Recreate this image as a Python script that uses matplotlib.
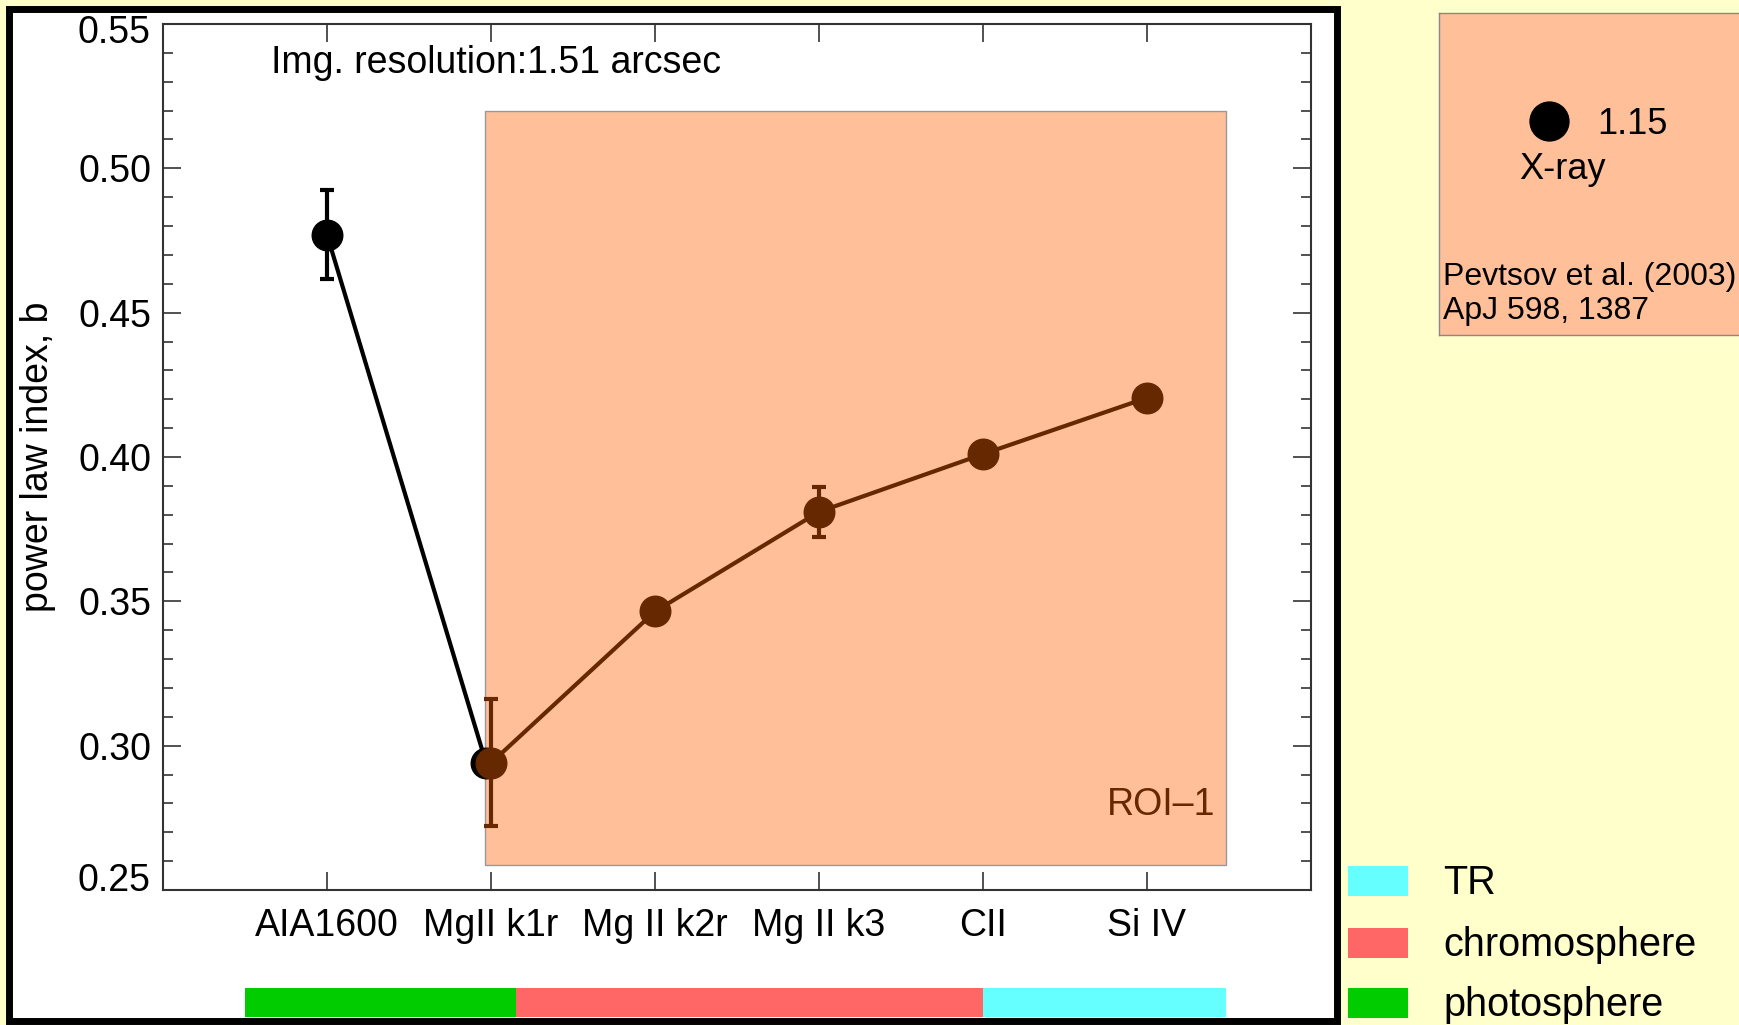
import matplotlib
matplotlib.use("Agg")
import matplotlib.pyplot as plt
import matplotlib.transforms as mtransforms
from matplotlib.patches import Rectangle
from matplotlib.ticker import MultipleLocator, FuncFormatter

plt.rcParams['font.family'] = ['Liberation Sans', 'DejaVu Sans']

# power law index per channel
channels = ['AIA1600', 'MgII k1r', 'Mg II k2r', 'Mg II k3', 'CII', 'Si IV']
aia_x = [1, 1.97]
aia_b = [0.477, 0.294]
aia_err = [0.0155, 0.0]
roi_x = [2, 3, 4, 5, 6]
roi_b = [0.294, 0.3465, 0.381, 0.401, 0.4205]
roi_err = [0.022, 0.003, 0.0087, 0.0, 0.0]

# atmospheric layer bands under the x axis
layer_names = ['photosphere', 'chromosphere', 'TR']
layer_start = [0.5, 2.15, 5.0]
layer_end = [2.15, 5.0, 6.48]
layer_colors = ['#00CC00', '#FF6666', '#66FFFF']

xray_b = 1.15

BROWN = '#662800'
ROI_FILL = '#FFBF99'
BG = '#FFFFCC'
FS = 27
YMIN, YMAX = 0.25, 0.55

fig = plt.figure(figsize=(17.4, 10.25), dpi=100, facecolor=BG)

# white panel with heavy black frame (kept behind the axes)
fig.patches.append(Rectangle((9 / 1740, 4 / 1025), 1328 / 1740, 1012.5 / 1025,
                             transform=fig.transFigure, facecolor='white',
                             edgecolor='black', linewidth=5, zorder=-5))

ax = fig.add_axes([163 / 1740, 135 / 1025, 1148 / 1740, 866 / 1025])
ax.set_facecolor('none')

# ROI shading
ax.add_patch(Rectangle((1.963, 0.2585), 6.48 - 1.963, 0.52 - 0.2585,
                       facecolor=ROI_FILL, edgecolor='#999999', linewidth=1, zorder=1))

ax.errorbar(aia_x, aia_b, yerr=aia_err, color='black', marker='o', markersize=22,
            linewidth=3, elinewidth=3, capsize=5, capthick=3, zorder=3)
ax.errorbar(roi_x, roi_b, yerr=roi_err, color=BROWN, marker='o', markersize=22,
            linewidth=3, elinewidth=3, capsize=5, capthick=3, zorder=4)

ax.text(6.415, 0.2794, 'ROI\u20131', color=BROWN, fontsize=FS, ha='right', va='center')
ax.text(0.094, 0.955, 'Img. resolution:1.51 arcsec', transform=ax.transAxes,
        fontsize=FS, ha='left', va='center')

ax.set_xlim(0, 7)
ax.set_ylim(YMIN, YMAX)
ax.set_xticks(range(1, 7))
ax.set_xticklabels(channels)
ax.yaxis.set_major_locator(MultipleLocator(0.05))
ax.yaxis.set_minor_locator(MultipleLocator(0.01))


# end labels are drawn separately, nudged inside the axis range
def ytick_fmt(v, pos):
    if abs(v - YMIN) < 1e-6 or abs(v - YMAX) < 1e-6:
        return ''
    return f'{v:.2f}'


ax.yaxis.set_major_formatter(FuncFormatter(ytick_fmt))
ax.tick_params(axis='both', which='major', direction='in', length=13, width=1.2,
               color='#333333', top=True, right=True, labelsize=FS)
ax.tick_params(axis='x', pad=13)
ax.tick_params(axis='y', pad=8)
ax.tick_params(axis='y', which='minor', direction='in', length=7, width=1.2,
               color='#333333', right=True)
for sp in ax.spines.values():
    sp.set_linewidth(1.5)
    sp.set_color('#333333')

ylab_tr = ax.get_yaxis_transform()
for v, dy in [(YMAX, -9), (YMIN, 9)]:
    off = mtransforms.ScaledTranslation(-12 / 100, dy / 100, fig.dpi_scale_trans)
    ax.text(0, v, f'{v:.2f}', fontsize=FS, ha='right', va='center',
            transform=ylab_tr + off)

ax.set_ylabel('power law index, b', fontsize=FS)
ax.yaxis.set_label_coords(-0.093, 0.5)

# layer colour strip
ax_band = fig.add_axes([163 / 1740, 8 / 1025, 1148 / 1740, 29 / 1025])
ax_band.set_xlim(0, 7)
ax_band.set_ylim(0, 1)
for s, e, c in zip(layer_start, layer_end, layer_colors):
    ax_band.barh(0.5, e - s, left=s, height=1, color=c, edgecolor='none')
ax_band.axis('off')

# layer legend
legend_y = {'TR': 881, 'chromosphere': 943, 'photosphere': 1003}
for name, c in zip(layer_names, layer_colors):
    yc = legend_y[name]
    fig.patches.append(Rectangle((1348 / 1740, (1025 - yc - 15) / 1025), 60 / 1740, 30 / 1025,
                                 transform=fig.transFigure, facecolor=c, edgecolor='none'))
    fig.text(1443 / 1740, (1025 - yc - 2) / 1025, name, fontsize=28.5, va='center', ha='left')

# reference value box
ax_ref = fig.add_axes([1439 / 1740, 690 / 1025, 305 / 1740, 322 / 1025])
ax_ref.set_facecolor(ROI_FILL)
ax_ref.set_xticks([])
ax_ref.set_yticks([])
for sp in ax_ref.spines.values():
    sp.set_color('#888888')
    sp.set_linewidth(1)
ax_ref.plot([0.362], [0.665], 'o', color='black', markersize=28, transform=ax_ref.transAxes)
ax_ref.text(0.518, 0.655, f'{xray_b:.2f}', fontsize=26, va='center', ha='left',
            transform=ax_ref.transAxes)
ax_ref.text(0.262, 0.515, 'X-ray', fontsize=26, va='center', ha='left',
            transform=ax_ref.transAxes)
ax_ref.text(0.013, 0.179, 'Pevtsov et al. (2003)', fontsize=23, va='center', ha='left',
            transform=ax_ref.transAxes)
ax_ref.text(0.013, 0.074, 'ApJ 598, 1387', fontsize=23, va='center', ha='left',
            transform=ax_ref.transAxes)

fig.savefig('out.png', dpi=100, facecolor=BG)
